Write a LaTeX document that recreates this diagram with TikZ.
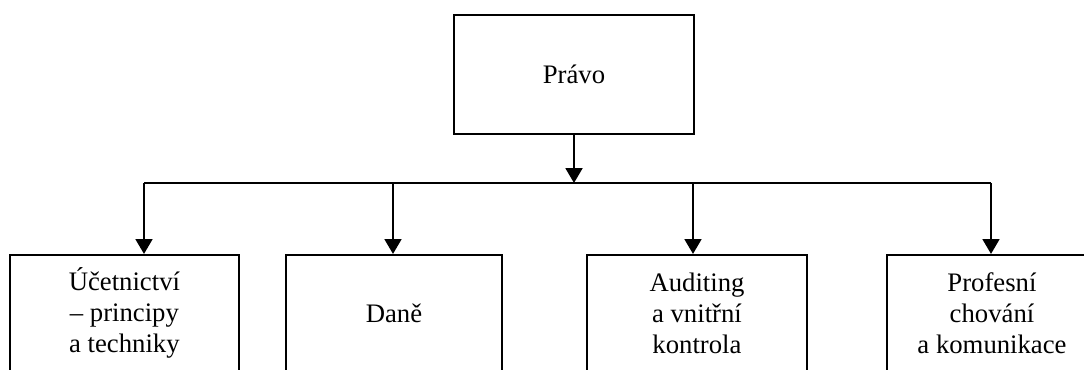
\documentclass[tikz,border=0pt]{standalone}
\usepackage{fontspec}
\setmainfont{Liberation Serif}
\usetikzlibrary{arrows.meta}

\begin{document}
\begin{tikzpicture}

\tikzset{box/.style = {shape=rectangle,draw,line width=1.5pt,align=center,
  minimum height=2.9cm,font=\fontsize{19pt}{22pt}\selectfont}}
\tikzset{arc/.style = {line width=1.5pt,-{Triangle[length=0.37cm,width=0.42cm]}}}

\useasboundingbox (0,0) rectangle (27.1,-9.25);
\clip (0,0) rectangle (27.1,-9.25);

% boxes
\node[box,minimum width=6cm,minimum height=2.975cm] (pravo) at (14.35,-1.86) {Právo};
\node[box,minimum width=5.725cm] (ucet) at (3.11,-7.825) {Účetnictví\\– principy\\a techniky};
\node[box,minimum width=5.4cm] (dane) at (9.85,-7.825) {Daně};
\node[box,minimum width=5.5cm] (audit) at (17.425,-7.825) {Auditing\\a vnitřní\\kontrola};
\node[box,minimum width=5.25cm] (prof) at (24.8,-7.825) {Profesní\\chování\\a komunikace};

% branch points
\coordinate (j1) at (3.6,-4.575);
\coordinate (j2) at (9.825,-4.575);
\coordinate (j3) at (17.325,-4.575);
\coordinate (j4) at (24.775,-4.575);

% lines
\draw[line width=1.5pt] (j1) -- (j4);
\draw[arc] (pravo.south) to (pravo.south |- j1);
\draw[arc] (j1) to (j1 |- ucet.north);
\draw[arc] (j2) to (j2 |- dane.north);
\draw[arc] (j3) to (j3 |- audit.north);
\draw[arc] (j4) to (j4 |- prof.north);

\end{tikzpicture}
\end{document}
